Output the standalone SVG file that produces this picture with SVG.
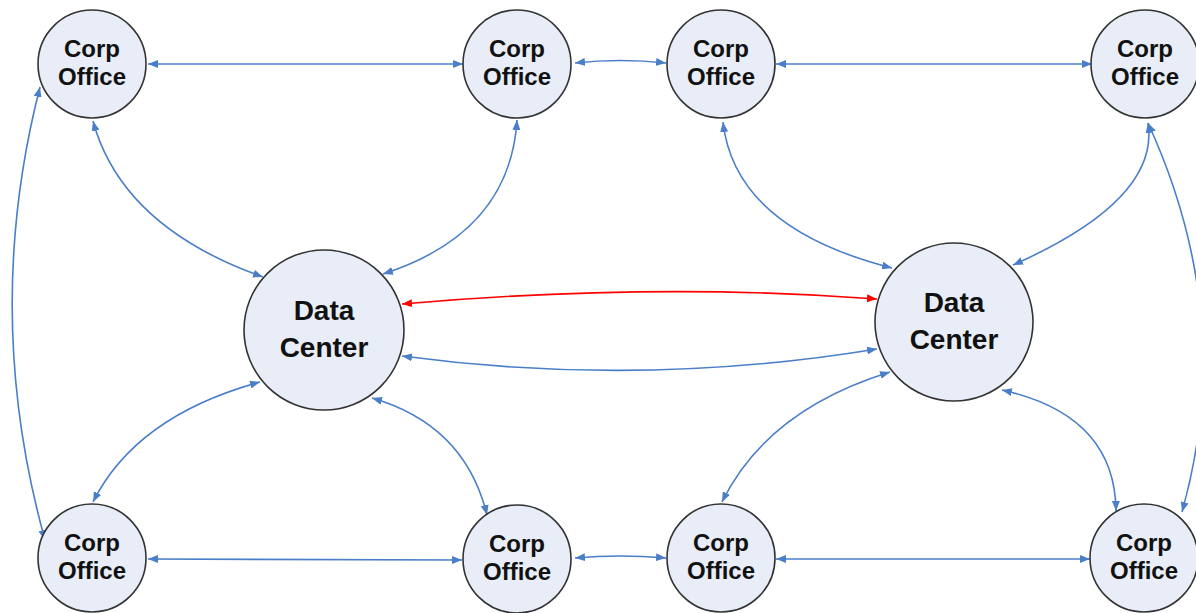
<svg xmlns="http://www.w3.org/2000/svg" width="1196" height="613" viewBox="0 0 1196 613">
<style>
  .node circle { fill: #E8EDF7; stroke: #333333; stroke-width: 1.6; }
  .node text { font-family: "Liberation Sans", Arial, sans-serif; font-weight: bold; fill: #111111; text-anchor: middle; }
  .corp text { font-size: 24px; }
  .dc text { font-size: 28px; }
  .edge { fill: none; stroke: #4A7EC8; stroke-width: 1.6; marker-start: url(#ab); marker-end: url(#ab); }
  .edge.red { stroke: #FF0000; marker-start: url(#ar); marker-end: url(#ar); }
</style>
<defs>
  <marker id="ab" viewBox="0 0 10 8" refX="10" refY="4" markerWidth="10" markerHeight="8" markerUnits="userSpaceOnUse" orient="auto-start-reverse">
    <path d="M0,0 L10,4 L0,8 z" fill="#4A7EC8"/>
  </marker>
  <marker id="ar" viewBox="0 0 10 8" refX="10" refY="4" markerWidth="10" markerHeight="8" markerUnits="userSpaceOnUse" orient="auto-start-reverse">
    <path d="M0,0 L10,4 L0,8 z" fill="#FF0000"/>
  </marker>
</defs>
<rect width="1196" height="613" fill="#FFFFFF"/>
<g id="connectors">
  <path class="edge" d="M148,64 L463,64"/>
  <path class="edge" d="M575,63 Q620,58 666,63"/>
  <path class="edge" d="M776,64 L1092,64"/>
  <path class="edge" d="M148,559 L462,560"/>
  <path class="edge" d="M575,558 Q620,554 666,558"/>
  <path class="edge" d="M776,559 L1090,559"/>
  <path class="edge" d="M93,121 Q122,227 263,277"/>
  <path class="edge" d="M517,120 Q510,233 383,274"/>
  <path class="edge" d="M723,122 Q735,228 892,268"/>
  <path class="edge" d="M1148,123 Q1160,200 1013,265"/>
  <path class="edge" d="M260,382 Q136,416 93,502"/>
  <path class="edge" d="M372,398 Q465,425 487,515"/>
  <path class="edge" d="M890,372 Q767,410 722,502"/>
  <path class="edge" d="M1002,390 Q1115,415 1116,511"/>
  <path class="edge" d="M40,87 Q-18,313 45,540"/>
  <path class="edge" d="M1148,123 Q1237,317 1182,512"/>
  <path class="edge red" d="M402,304 Q655,282 877,299"/>
  <path class="edge" d="M402,356 Q640,388 877,349"/>
</g>
<g id="corp-tl" class="node corp"><circle cx="92" cy="64" r="54"/><text x="92" y="57">Corp</text><text x="92" y="85">Office</text></g>
<g id="corp-t2" class="node corp"><circle cx="517" cy="64" r="54"/><text x="517" y="57">Corp</text><text x="517" y="85">Office</text></g>
<g id="corp-t3" class="node corp"><circle cx="721" cy="64" r="54"/><text x="721" y="57">Corp</text><text x="721" y="85">Office</text></g>
<g id="corp-t4" class="node corp"><circle cx="1145" cy="64" r="54"/><text x="1145" y="57">Corp</text><text x="1145" y="85">Office</text></g>
<g id="corp-b1" class="node corp"><circle cx="92" cy="558" r="54"/><text x="92" y="551">Corp</text><text x="92" y="579">Office</text></g>
<g id="corp-b2" class="node corp"><circle cx="517" cy="559" r="54"/><text x="517" y="552">Corp</text><text x="517" y="580">Office</text></g>
<g id="corp-b3" class="node corp"><circle cx="721" cy="558" r="54"/><text x="721" y="551">Corp</text><text x="721" y="579">Office</text></g>
<g id="corp-b4" class="node corp"><circle cx="1144" cy="558" r="54"/><text x="1144" y="551">Corp</text><text x="1144" y="579">Office</text></g>
<g id="dc-left" class="node dc"><circle cx="324" cy="330" r="80"/><text x="324" y="320">Data</text><text x="324" y="357">Center</text></g>
<g id="dc-right" class="node dc"><circle cx="954" cy="322" r="79"/><text x="954" y="312">Data</text><text x="954" y="349">Center</text></g>
</svg>
